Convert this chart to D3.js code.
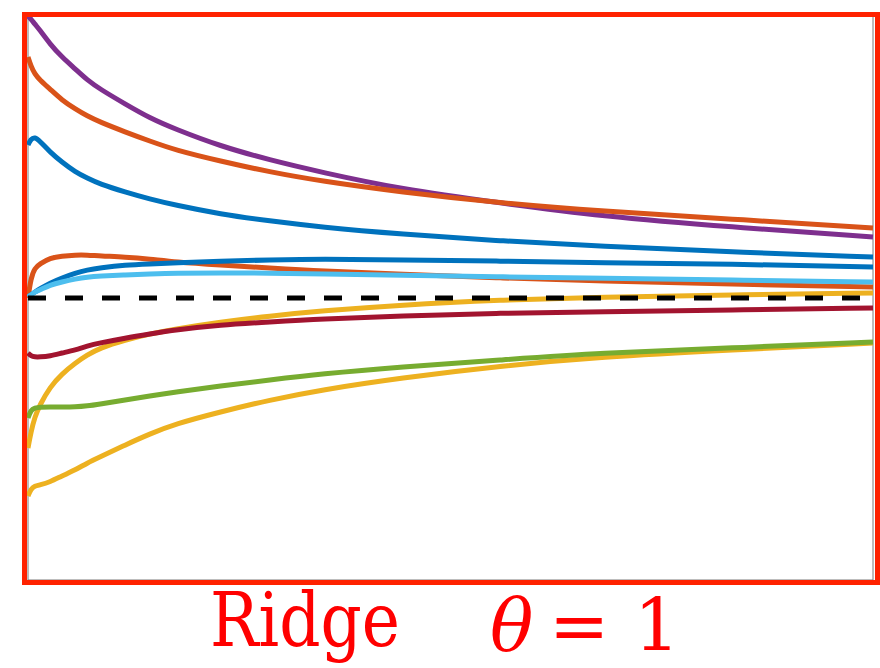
<!DOCTYPE html>
<html>
<head>
<meta charset="utf-8">
<script src="https://cdn.jsdelivr.net/npm/d3@7"></script>
<style>
  body { margin: 0; background: #fff; }
  svg { display: block; }
</style>
</head>
<body>
<div id="chart"></div>
<script>
// shared x positions (regularisation path, 0..100)
const lambda = [0, 0.35, 0.8, 1.4, 2.6, 4, 5.6, 7, 8.5, 11.5, 14.4, 17.4, 22.7, 28.6, 34.6, 44, 55.9, 67.7, 83.1, 100];

// coefficient paths
const yellowLow = [-1.98, -1.91, -1.88, -1.87, -1.84, -1.78, -1.72, -1.65, -1.59, -1.47, -1.36, -1.26, -1.14, -1.02, -0.92, -0.80, -0.68, -0.59, -0.52, -0.45];
const yellowHigh = [-1.50, -1.34, -1.19, -1.07, -0.89, -0.76, -0.65, -0.57, -0.50, -0.42, -0.36, -0.31, -0.24, -0.18, -0.13, -0.07, -0.02, 0.01, 0.03, 0.05];
const green = [-1.20, -1.12, -1.10, -1.09, -1.09, -1.09, -1.09, -1.08, -1.06, -1.02, -0.98, -0.94, -0.88, -0.82, -0.76, -0.69, -0.62, -0.55, -0.50, -0.44];
const darkRed = [-0.55, -0.58, -0.59, -0.59, -0.58, -0.55, -0.52, -0.48, -0.45, -0.40, -0.36, -0.32, -0.27, -0.24, -0.21, -0.18, -0.15, -0.14, -0.12, -0.10];
const purple = [2.82, 2.79, 2.74, 2.68, 2.54, 2.41, 2.29, 2.18, 2.09, 1.94, 1.80, 1.69, 1.52, 1.38, 1.26, 1.09, 0.95, 0.82, 0.71, 0.61];
const orangeHigh = [2.41, 2.32, 2.24, 2.18, 2.09, 1.98, 1.89, 1.82, 1.76, 1.66, 1.57, 1.48, 1.37, 1.26, 1.17, 1.06, 0.95, 0.87, 0.79, 0.70];
const blueHigh = [1.53, 1.59, 1.61, 1.57, 1.46, 1.36, 1.26, 1.20, 1.14, 1.06, 0.99, 0.93, 0.84, 0.77, 0.71, 0.64, 0.57, 0.52, 0.46, 0.41];
const orangeLow = [0, 0.20, 0.30, 0.34, 0.40, 0.42, 0.43, 0.43, 0.42, 0.41, 0.39, 0.36, 0.33, 0.30, 0.27, 0.24, 0.20, 0.17, 0.14, 0.11];
const blueLow = [0.01, 0.03, 0.06, 0.09, 0.15, 0.20, 0.25, 0.28, 0.30, 0.33, 0.34, 0.35, 0.37, 0.38, 0.39, 0.38, 0.37, 0.35, 0.34, 0.31];
const lightBlue = [0.01, 0.03, 0.06, 0.08, 0.13, 0.16, 0.19, 0.21, 0.22, 0.23, 0.24, 0.25, 0.25, 0.25, 0.24, 0.23, 0.21, 0.20, 0.18, 0.16];

// drawing order (last on top)
const series = [
  { values: yellowLow, color: "#EDB120" },
  { values: yellowHigh, color: "#EDB120" },
  { values: green, color: "#77AC30" },
  { values: darkRed, color: "#A2142F" },
  { values: purple, color: "#7E2F8E" },
  { values: orangeHigh, color: "#D95319" },
  { values: blueHigh, color: "#0072BD" },
  { values: orangeLow, color: "#D95319" },
  { values: blueLow, color: "#0072BD" },
  { values: lightBlue, color: "#4DBEEE" }
];

const W = 880, H = 668;
const plot = { left: 28, right: 873, top: 16, bottom: 580 };
const serif = "DejaVu Serif, Liberation Serif, Times New Roman, serif";

const svg = d3.select("#chart").append("svg")
  .attr("width", W)
  .attr("height", H);

const x = d3.scaleLinear().domain([0, 100]).range([plot.left, plot.right]);
const y = d3.scaleLinear().domain([-2.82, 2.82]).range([plot.bottom, plot.top]);

// axes box (no ticks)
svg.append("rect")
  .attr("x", plot.left)
  .attr("y", plot.top)
  .attr("width", plot.right - plot.left)
  .attr("height", plot.bottom - plot.top)
  .attr("fill", "none")
  .attr("stroke", "#7a7a7a")
  .attr("stroke-width", 1);

const line = d3.line()
  .x((d) => x(d[0]))
  .y((d) => y(d[1]))
  .curve(d3.curveBasis);

series.forEach((s) => {
  svg.append("path")
    .datum(lambda.map((l, i) => [l, s.values[i]]))
    .attr("d", line)
    .attr("fill", "none")
    .attr("stroke", s.color)
    .attr("stroke-width", 5)
    .attr("stroke-linejoin", "round");
});

// zero reference
svg.append("path")
  .datum([[0, 0], [100, 0]])
  .attr("d", d3.line().x((d) => x(d[0])).y((d) => y(d[1])))
  .attr("stroke", "#000")
  .attr("stroke-width", 5)
  .attr("stroke-dasharray", "18 19");

// red highlight frame
svg.append("rect")
  .attr("x", 24.5)
  .attr("y", 14.5)
  .attr("width", 853)
  .attr("height", 568)
  .attr("fill", "none")
  .attr("stroke", "#FF2200")
  .attr("stroke-width", 5);

// caption
const cap = svg.append("g").attr("fill", "#FF0000");

cap.append("text")
  .attr("x", 210)
  .attr("y", 646)
  .attr("font-family", serif)
  .attr("font-size", 74)
  .attr("textLength", 190)
  .attr("lengthAdjust", "spacingAndGlyphs")
  .text("Ridge");

cap.append("text")
  .attr("x", 490)
  .attr("y", 651)
  .attr("font-family", serif)
  .attr("font-size", 72)
  .attr("font-style", "italic")
  .text("θ");

cap.append("text")
  .attr("x", 549)
  .attr("y", 651)
  .attr("font-family", serif)
  .attr("font-size", 72)
  .text("=");

cap.append("text")
  .attr("x", 634)
  .attr("y", 651)
  .attr("font-family", serif)
  .attr("font-size", 72)
  .text("1");
</script>
</body>
</html>
